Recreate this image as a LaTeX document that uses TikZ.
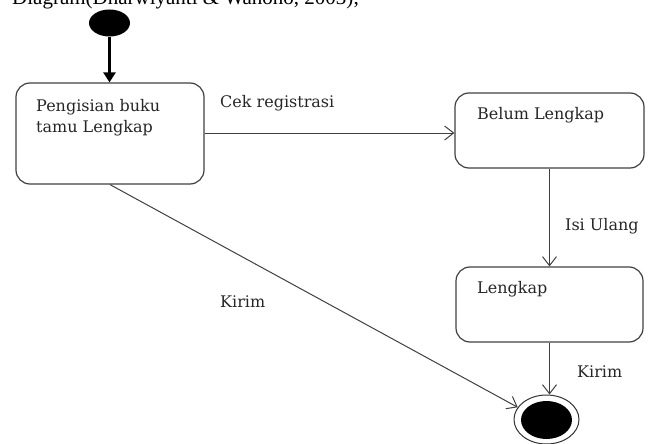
\documentclass[tikz,border=0pt]{standalone}
\usepackage{fontspec}
\setmainfont{DejaVu Serif}
\newfontfamily\capfont{Liberation Serif}
\usetikzlibrary{arrows.meta,shapes.geometric}
\begin{document}
\begin{tikzpicture}[x=1pt,y=-1pt,
  statebox/.style={draw=black!75, line width=1.2pt, rounded corners=14pt, inner sep=0pt, rectangle},
  txt/.style={inner sep=0pt, anchor=base west, font=\fontsize{16}{21}\selectfont, text=black!85},
  conn/.style={draw=black!75, line width=1pt, -{Straight Barb[length=9pt,width=14pt,line width=1pt]}},
]
\useasboundingbox (0,0) rectangle (651,444);

% clipped caption line at the top
\node[inner sep=0pt, anchor=base west, font=\capfont\fontsize{21}{24}\selectfont] (cap) at (12,5) {Diagram(Dharwiyanti \& Wahono, 2003);};

% initial state
\node[ellipse, fill=black, minimum width=41pt, minimum height=27pt, inner sep=0pt] (start) at (109.5,23) {};

% states
\node[statebox, minimum width=188pt, minimum height=101pt] (b1) at (110,133.5) {};
\node[statebox, minimum width=189pt, minimum height=75pt] (b2) at (549.5,130.5) {};
\node[statebox, minimum width=187pt, minimum height=75pt] (b3) at (549.5,304.5) {};

\node[txt] (t1a) at (36,111) {Pengisian buku};
\node[txt] (t1b) at (36,132.5) {tamu Lengkap};
\node[txt] (t2) at (477,120) {Belum Lengkap};
\node[txt] (t3) at (477,293) {Lengkap};

% final state
\node[ellipse, draw=black!80, line width=1pt, minimum width=65pt, minimum height=49pt, inner sep=0pt] (end) at (546.5,419.5) {};
\node[ellipse, fill=black, minimum width=51pt, minimum height=38pt, inner sep=0pt] (endin) at (546.5,420) {};

% connectors
\draw[line width=3.5pt, -{Triangle[length=10pt,width=12pt]}] (start.south) -- (start.south |- b1.north);
\draw[conn] (b1.east |- 0,133) -- (b2.west |- 0,133);
\draw[conn] (b2.south) -- (b3.north);
\draw[conn] (b3.south) -- (b3.south |- end.north);
\draw[conn] (b1.south) -- (end.157);

% labels
\node[txt] (l1) at (220,107) {Cek registrasi};
\node[txt] (l2) at (565,230) {Isi Ulang};
\node[txt] (l3) at (577,377) {Kirim};
\node[txt] (l4) at (220,307) {Kirim};
\end{tikzpicture}
\end{document}
